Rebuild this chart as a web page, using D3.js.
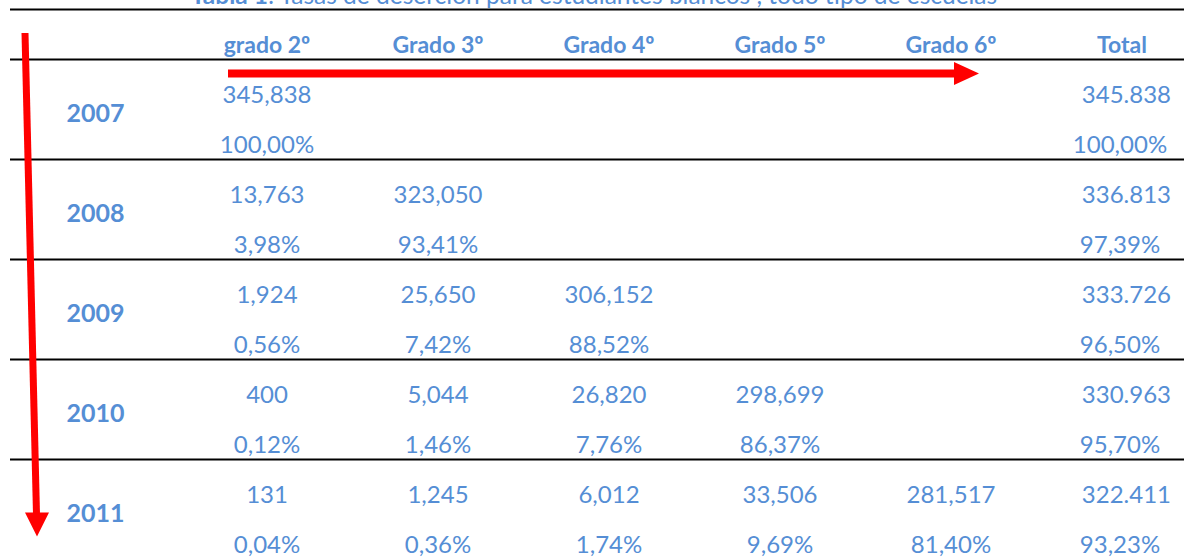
<!DOCTYPE html>
<html>
<head>
<meta charset="utf-8">
<script src="https://cdn.jsdelivr.net/npm/d3@7"></script>
<style>
  body { margin: 0; background: #fff; }
  svg { display: block; }
  text { font-family: Lato, "Open Sans", sans-serif; }
</style>
</head>
<body>
<div id="chart"></div>
<script>
// table data
const years = ["2007", "2008", "2009", "2010", "2011"];
const grades = ["grado 2º", "Grado 3º", "Grado 4º", "Grado 5º", "Grado 6º"];

// students per grade, one array per year
const counts2007 = [345838];
const counts2008 = [13763, 323050];
const counts2009 = [1924, 25650, 306152];
const counts2010 = [400, 5044, 26820, 298699];
const counts2011 = [131, 1245, 6012, 33506, 281517];

// share of the 2007 cohort, one array per year
const pct2007 = [100.00];
const pct2008 = [3.98, 93.41];
const pct2009 = [0.56, 7.42, 88.52];
const pct2010 = [0.12, 1.46, 7.76, 86.37];
const pct2011 = [0.04, 0.36, 1.74, 9.69, 81.40];

const totals = [345838, 336813, 333726, 330963, 322411];
const totalPct = [100.00, 97.39, 96.50, 95.70, 93.23];

const counts = [counts2007, counts2008, counts2009, counts2010, counts2011];
const pcts = [pct2007, pct2008, pct2009, pct2010, pct2011];

const width = 1184, height = 558;
const blue = "#558ed5";
const red = "#ff0000";

const svg = d3.select("#chart").append("svg")
  .attr("width", width)
  .attr("height", height);

const x = d3.scalePoint()
  .domain(grades.concat(["Total"]))
  .range([267, 1122]);

const y = d3.scaleBand()
  .domain(years)
  .range([59.5, 559.5]);

const fmtCount = d3.format(",");                     // 345,838
const fmtTotal = v => d3.format(",")(v).replace(/,/g, "."); // 345.838
const fmtPct = v => d3.format(".2f")(v).replace(".", ",") + "%";

// title (cut off at the top edge, as in the source)
const title = svg.append("text")
  .attr("x", 594)
  .attr("y", 4)
  .attr("text-anchor", "middle")
  .attr("fill", blue)
  .style("font-size", "24.5px");
title.append("tspan").attr("font-weight", "bold").text("Tabla 1");
title.append("tspan").text(": Tasas de deserción para estudiantes blancos , todo tipo de escuelas");

// horizontal rules
const rules = [9.5, y.range()[0]].concat(years.slice(1).map(d => y(d)));
svg.selectAll(".rule")
  .data(rules)
  .join("line")
  .attr("class", "rule")
  .attr("x1", 10)
  .attr("x2", width)
  .attr("y1", d => d)
  .attr("y2", d => d)
  .attr("stroke", "#000")
  .attr("stroke-width", 2.2);

// column headers
svg.selectAll(".head")
  .data(x.domain())
  .join("text")
  .attr("class", "head")
  .attr("x", d => x(d))
  .attr("y", 52.5)
  .attr("text-anchor", "middle")
  .attr("fill", blue)
  .attr("font-weight", "bold")
  .style("font-size", "23px")
  .text(d => d);

// row labels
svg.selectAll(".year")
  .data(years)
  .join("text")
  .attr("class", "year")
  .attr("x", 95.5)
  .attr("y", d => y(d) + 62)
  .attr("text-anchor", "middle")
  .attr("fill", blue)
  .attr("font-weight", "bold")
  .style("font-size", "25px")
  .text(d => d);

// cells
const cells = [];
years.forEach((yr, i) => {
  counts[i].forEach((v, j) => {
    cells.push({ year: yr, col: grades[j], count: fmtCount(v), pct: fmtPct(pcts[i][j]) });
  });
});

const cell = svg.selectAll(".cell")
  .data(cells)
  .join("g")
  .attr("class", "cell")
  .attr("transform", d => `translate(${x(d.col)},${y(d.year)})`);

cell.append("text")
  .attr("y", 43.5)
  .attr("text-anchor", "middle")
  .attr("fill", blue)
  .style("font-size", "24px")
  .text(d => d.count);

cell.append("text")
  .attr("y", 93.5)
  .attr("text-anchor", "middle")
  .attr("fill", blue)
  .style("font-size", "24px")
  .text(d => d.pct);

// total column
svg.selectAll(".total")
  .data(years)
  .join("text")
  .attr("class", "total")
  .attr("x", x("Total") + 49)
  .attr("y", d => y(d) + 43.5)
  .attr("text-anchor", "end")
  .attr("fill", blue)
  .style("font-size", "24px")
  .text((d, i) => fmtTotal(totals[i]));

svg.selectAll(".totalPct")
  .data(years)
  .join("text")
  .attr("class", "totalPct")
  .attr("x", x("Total") - 2)
  .attr("y", d => y(d) + 93.5)
  .attr("text-anchor", "middle")
  .attr("fill", blue)
  .style("font-size", "24px")
  .text((d, i) => fmtPct(totalPct[i]));

// red arrows
const hy = y("2007") + 14;
const hx0 = x(grades[0]) - 39, hx1 = x(grades[4]) + 3;
svg.append("line")
  .attr("x1", hx0).attr("x2", hx1 + 2)
  .attr("y1", hy).attr("y2", hy)
  .attr("stroke", red)
  .attr("stroke-width", 8);
svg.append("path")
  .attr("d", `M${hx1},${hy - 11.5}L${hx1 + 25},${hy}L${hx1},${hy + 11.5}Z`)
  .attr("fill", red);

const vy0 = 33, vy1 = y("2011") + 53;
svg.append("line")
  .attr("x1", 25).attr("x2", 36.5)
  .attr("y1", vy0).attr("y2", vy1 + 2)
  .attr("stroke", red)
  .attr("stroke-width", 7);
svg.append("path")
  .attr("d", `M25,${vy1}L49,${vy1}L37,${vy1 + 24}Z`)
  .attr("fill", red);
</script>
</body>
</html>
